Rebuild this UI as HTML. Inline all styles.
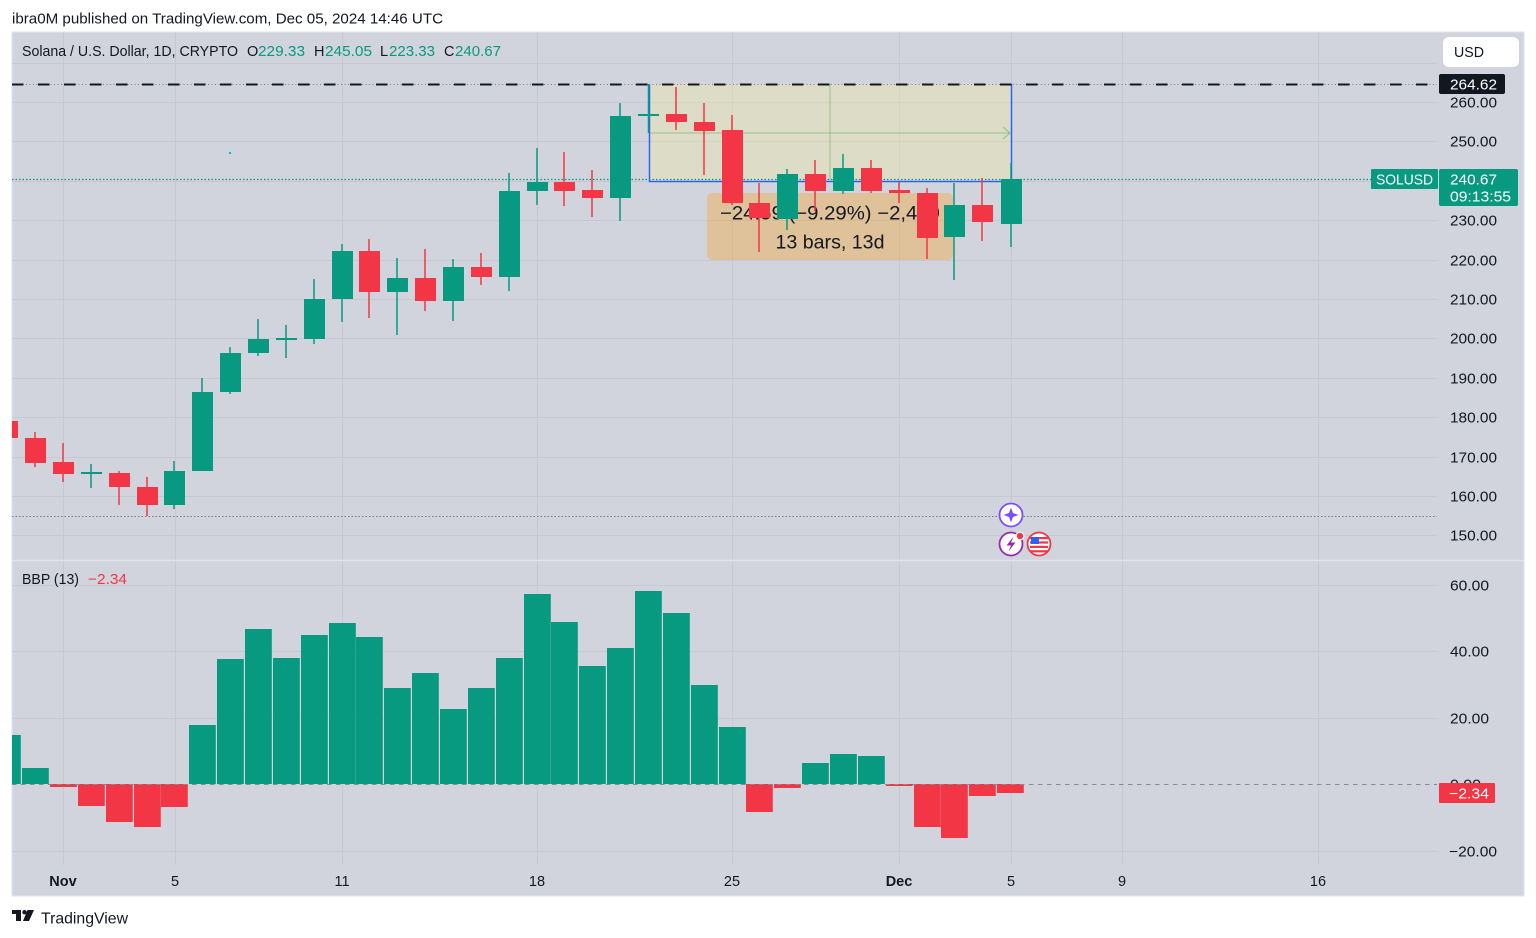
<!DOCTYPE html>
<html><head><meta charset="utf-8"><style>
html,body{margin:0;padding:0;background:#fff;}
svg{display:block;font-family:"Liberation Sans",sans-serif;}
svg text{transform:translateY(1px);}
</style></head><body>
<svg width="1536" height="938" viewBox="0 0 1536 938" xmlns="http://www.w3.org/2000/svg">
<defs><clipPath id="c"><rect x="12" y="32" width="1425" height="833"/></clipPath></defs>
<text x="12" y="18" font-size="15" fill="#131722" dominant-baseline="central" textLength="431" lengthAdjust="spacingAndGlyphs">ibra0M published on TradingView.com, Dec 05, 2024 14:46 UTC</text>
<rect x="12" y="32" width="1512" height="864" fill="#d1d4dc" stroke="#e0e3eb" stroke-width="1"/>
<!-- vertical grid -->
<g stroke="#c6c9d1" stroke-width="1">
<line x1="63.5" y1="32" x2="63.5" y2="865"/><line x1="175.5" y1="32" x2="175.5" y2="865"/><line x1="342.5" y1="32" x2="342.5" y2="865"/><line x1="537.5" y1="32" x2="537.5" y2="865"/><line x1="732.5" y1="32" x2="732.5" y2="865"/><line x1="899.5" y1="32" x2="899.5" y2="865"/><line x1="1011.5" y1="32" x2="1011.5" y2="865"/><line x1="1122.5" y1="32" x2="1122.5" y2="865"/><line x1="1318.5" y1="32" x2="1318.5" y2="865"/>
</g>
<!-- horizontal grid -->
<g stroke="#c6c9d1" stroke-width="1">
<line x1="12" y1="63.5" x2="1437" y2="63.5"/><line x1="12" y1="102.5" x2="1437" y2="102.5"/><line x1="12" y1="141.5" x2="1437" y2="141.5"/><line x1="12" y1="181.5" x2="1437" y2="181.5"/><line x1="12" y1="220.5" x2="1437" y2="220.5"/><line x1="12" y1="260.5" x2="1437" y2="260.5"/><line x1="12" y1="299.5" x2="1437" y2="299.5"/><line x1="12" y1="338.5" x2="1437" y2="338.5"/><line x1="12" y1="378.5" x2="1437" y2="378.5"/><line x1="12" y1="417.5" x2="1437" y2="417.5"/><line x1="12" y1="457.5" x2="1437" y2="457.5"/><line x1="12" y1="496.5" x2="1437" y2="496.5"/><line x1="12" y1="535.5" x2="1437" y2="535.5"/>
<line x1="12" y1="585.5" x2="1437" y2="585.5"/><line x1="12" y1="651.5" x2="1437" y2="651.5"/><line x1="12" y1="718.5" x2="1437" y2="718.5"/><line x1="12" y1="851.5" x2="1437" y2="851.5"/>
</g>
<line x1="12" y1="560.5" x2="1524" y2="560.5" stroke="#e0e3eb" stroke-width="1.5"/>

<!-- header -->
<text x="22" y="51" font-size="14.5" fill="#131722" dominant-baseline="central" textLength="216" lengthAdjust="spacingAndGlyphs">Solana / U.S. Dollar, 1D, CRYPTO</text>
<text x="247" y="51" font-size="14.5" fill="#131722" dominant-baseline="central">O</text><text x="258" y="51" font-size="14.5" fill="#089981" dominant-baseline="central" textLength="47" lengthAdjust="spacingAndGlyphs">229.33</text>
<text x="314" y="51" font-size="14.5" fill="#131722" dominant-baseline="central">H</text><text x="325" y="51" font-size="14.5" fill="#089981" dominant-baseline="central" textLength="47" lengthAdjust="spacingAndGlyphs">245.05</text>
<text x="380" y="51" font-size="14.5" fill="#131722" dominant-baseline="central">L</text><text x="389" y="51" font-size="14.5" fill="#089981" dominant-baseline="central" textLength="46" lengthAdjust="spacingAndGlyphs">223.33</text>
<text x="444" y="51" font-size="14.5" fill="#131722" dominant-baseline="central">C</text><text x="455" y="51" font-size="14.5" fill="#089981" dominant-baseline="central" textLength="46" lengthAdjust="spacingAndGlyphs">240.67</text>

<!-- USD button -->
<rect x="1443" y="37" width="76" height="30" rx="6" fill="#ffffff"/>
<text x="1454" y="52" font-size="14.5" fill="#131722" dominant-baseline="central" textLength="30" lengthAdjust="spacingAndGlyphs">USD</text>

<!-- measurement rect -->
<rect x="649" y="84" width="363" height="97" fill="rgba(250,240,150,0.3)"/>
<path d="M649.5,84 V181.5 H1011.5 V84" fill="none" stroke="#2962ff" stroke-width="1.5"/>
<line x1="650" y1="133" x2="1010" y2="133" stroke="rgba(76,175,80,0.35)" stroke-width="1.5"/>
<polyline points="1003,127 1010,133 1003,139" fill="none" stroke="rgba(76,175,80,0.4)" stroke-width="1.5"/>
<line x1="830" y1="84" x2="830" y2="181" stroke="rgba(76,175,80,0.35)" stroke-width="1.5"/>

<!-- label -->
<rect x="707" y="193" width="246" height="67" rx="5" fill="rgba(255,152,0,0.3)"/>
<text x="830" y="213" font-size="19" fill="#131722" text-anchor="middle" dominant-baseline="central" textLength="220" lengthAdjust="spacingAndGlyphs">−24.59 (−9.29%) −2,459</text>
<text x="830" y="242" font-size="19" fill="#131722" text-anchor="middle" dominant-baseline="central" textLength="109" lengthAdjust="spacingAndGlyphs">13 bars, 13d</text>

<!-- lines -->
<line x1="12" y1="84.5" x2="1437" y2="84.5" stroke="#787b86" stroke-width="1" stroke-dasharray="1 2.5"/>
<line x1="12" y1="84.5" x2="1437" y2="84.5" stroke="#131722" stroke-width="2" stroke-dasharray="11.5 14.5"/>
<line x1="12" y1="179.5" x2="1437" y2="179.5" stroke="#089981" stroke-width="1.3" stroke-dasharray="1.5 2"/>
<line x1="12" y1="516.5" x2="1437" y2="516.5" stroke="#787b86" stroke-width="1" stroke-dasharray="1.5 2"/>
<rect x="229" y="152" width="2" height="2" fill="#00bcd4"/>

<!-- candles -->
<g clip-path="url(#c)">
<g fill="#f23645"><rect x="6.25" y="416" width="1.5" height="25"/><rect x="-3" y="421" width="21" height="17"/></g>
<g fill="#f23645"><rect x="34.25" y="432" width="1.5" height="35"/><rect x="25" y="438" width="21" height="25"/></g>
<g fill="#f23645"><rect x="62.25" y="443" width="1.5" height="39"/><rect x="53" y="462" width="21" height="12"/></g>
<g fill="#089981"><rect x="90.25" y="464" width="1.5" height="24"/><rect x="81" y="472" width="21" height="2"/></g>
<g fill="#f23645"><rect x="118.25" y="471" width="1.5" height="34"/><rect x="109" y="473" width="21" height="14"/></g>
<g fill="#f23645"><rect x="146.25" y="477" width="1.5" height="39"/><rect x="137" y="487" width="21" height="18"/></g>
<g fill="#089981"><rect x="173.25" y="461" width="1.5" height="48"/><rect x="164" y="471" width="21" height="34"/></g>
<g fill="#089981"><rect x="201.25" y="378" width="1.5" height="93"/><rect x="192" y="392" width="21" height="79"/></g>
<g fill="#089981"><rect x="229.25" y="347" width="1.5" height="47"/><rect x="220" y="353" width="21" height="39"/></g>
<g fill="#089981"><rect x="257.25" y="319" width="1.5" height="37"/><rect x="248" y="339" width="21" height="14"/></g>
<g fill="#089981"><rect x="285.25" y="325" width="1.5" height="33"/><rect x="276" y="338" width="21" height="2"/></g>
<g fill="#089981"><rect x="313.25" y="279" width="1.5" height="65"/><rect x="304" y="299" width="21" height="40"/></g>
<g fill="#089981"><rect x="341.25" y="244" width="1.5" height="78"/><rect x="332" y="251" width="21" height="48"/></g>
<g fill="#f23645"><rect x="368.25" y="239" width="1.5" height="79"/><rect x="359" y="251" width="21" height="41"/></g>
<g fill="#089981"><rect x="396.25" y="258" width="1.5" height="77"/><rect x="387" y="278" width="21" height="14"/></g>
<g fill="#f23645"><rect x="424.25" y="249" width="1.5" height="62"/><rect x="415" y="278" width="21" height="23"/></g>
<g fill="#089981"><rect x="452.25" y="259" width="1.5" height="62"/><rect x="443" y="267" width="21" height="34"/></g>
<g fill="#f23645"><rect x="480.25" y="253" width="1.5" height="32"/><rect x="471" y="267" width="21" height="10"/></g>
<g fill="#089981"><rect x="508.25" y="173" width="1.5" height="118"/><rect x="499" y="191" width="21" height="86"/></g>
<g fill="#089981"><rect x="536.25" y="148" width="1.5" height="57"/><rect x="527" y="182" width="21" height="9"/></g>
<g fill="#f23645"><rect x="563.25" y="152" width="1.5" height="54"/><rect x="554" y="182" width="21" height="9"/></g>
<g fill="#f23645"><rect x="591.25" y="170" width="1.5" height="47"/><rect x="582" y="190" width="21" height="8"/></g>
<g fill="#089981"><rect x="619.25" y="103" width="1.5" height="118"/><rect x="610" y="116" width="21" height="82"/></g>
<g fill="#089981"><rect x="647.75" y="84" width="1.5" height="49"/><rect x="638" y="114" width="21" height="2"/></g>
<g fill="#f23645"><rect x="675.25" y="87" width="1.5" height="43"/><rect x="666" y="114" width="21" height="8"/></g>
<g fill="#f23645"><rect x="703.25" y="103" width="1.5" height="72"/><rect x="694" y="122" width="21" height="9"/></g>
<g fill="#f23645"><rect x="731.25" y="115" width="1.5" height="90"/><rect x="722" y="130" width="21" height="73"/></g>
<g fill="#f23645"><rect x="758.25" y="183" width="1.5" height="69"/><rect x="749" y="203" width="21" height="15"/></g>
<g fill="#089981"><rect x="786.25" y="169" width="1.5" height="61"/><rect x="777" y="174" width="21" height="45"/></g>
<g fill="#f23645"><rect x="814.25" y="160" width="1.5" height="51"/><rect x="805" y="174" width="21" height="17"/></g>
<g fill="#089981"><rect x="842.25" y="154" width="1.5" height="40"/><rect x="833" y="168" width="21" height="23"/></g>
<g fill="#f23645"><rect x="870.25" y="160" width="1.5" height="33"/><rect x="861" y="168" width="21" height="23"/></g>
<g fill="#f23645"><rect x="898.25" y="182" width="1.5" height="21"/><rect x="889" y="190" width="21" height="3"/></g>
<g fill="#f23645"><rect x="926.25" y="188" width="1.5" height="71"/><rect x="917" y="193" width="21" height="45"/></g>
<g fill="#089981"><rect x="953.25" y="183" width="1.5" height="97"/><rect x="944" y="205" width="21" height="32"/></g>
<g fill="#f23645"><rect x="981.25" y="178" width="1.5" height="63"/><rect x="972" y="205" width="21" height="17"/></g>
<g fill="#089981"><rect x="1010.25" y="163" width="1.5" height="84"/><rect x="1001" y="179" width="21" height="45"/></g>
</g>

<!-- event icons -->
<circle cx="1011" cy="515" r="11.5" fill="#ffffff" stroke="#7c4dff" stroke-width="1.8"/>
<path d="M1011,507.5 L1013,513 L1018.5,515 L1013,517 L1011,522.5 L1009,517 L1003.5,515 L1009,513 Z" fill="#7c4dff"/>
<circle cx="1011" cy="544" r="11.5" fill="#ffffff" stroke="#9c27b0" stroke-width="1.8"/>
<path d="M1013.5,536.5 L1006.5,545.5 L1011,545.5 L1008.5,551.5 L1015.5,542.5 L1011,542.5 Z" fill="#9c27b0"/>
<circle cx="1020" cy="536" r="3.8" fill="#f23645" stroke="#ffffff" stroke-width="1.2"/>
<circle cx="1039" cy="544" r="11.5" fill="#ffffff" stroke="#f23645" stroke-width="1.8"/>
<rect x="1030" y="537" width="18" height="2.2" fill="#f23645"/><rect x="1030" y="541.4" width="18" height="2.2" fill="#f23645"/><rect x="1030" y="545.8" width="18" height="2.2" fill="#f23645"/><rect x="1030" y="550.2" width="18" height="2.2" fill="#f23645"/>
<rect x="1031" y="537" width="8" height="7" fill="#2962ff"/>

<!-- BBP bars -->
<g clip-path="url(#c)">
<g fill="#089981">
<rect x="-6" y="735" width="26.8" height="49"/>
<rect x="22" y="768" width="26.8" height="16"/>
<rect x="189" y="725" width="26.8" height="59"/>
<rect x="217" y="659" width="26.8" height="125"/>
<rect x="245" y="629" width="26.8" height="155"/>
<rect x="273" y="658" width="26.8" height="126"/>
<rect x="301" y="635" width="26.8" height="149"/>
<rect x="329" y="623" width="26.8" height="161"/>
<rect x="356" y="637" width="26.8" height="147"/>
<rect x="384" y="688" width="26.8" height="96"/>
<rect x="412" y="673" width="26.8" height="111"/>
<rect x="440" y="709" width="26.8" height="75"/>
<rect x="468" y="688" width="26.8" height="96"/>
<rect x="496" y="658" width="26.8" height="126"/>
<rect x="524" y="594" width="26.8" height="190"/>
<rect x="551" y="622" width="26.8" height="162"/>
<rect x="579" y="666" width="26.8" height="118"/>
<rect x="607" y="648" width="26.8" height="136"/>
<rect x="635" y="591" width="26.8" height="193"/>
<rect x="663" y="613" width="26.8" height="171"/>
<rect x="691" y="685" width="26.8" height="99"/>
<rect x="719" y="727" width="26.8" height="57"/>
<rect x="802" y="763" width="26.8" height="21"/>
<rect x="830" y="754" width="26.8" height="30"/>
<rect x="858" y="756" width="26.8" height="28"/>
</g>
<g fill="#f23645">
<rect x="50" y="784" width="26.8" height="3"/>
<rect x="78" y="784" width="26.8" height="22"/>
<rect x="106" y="784" width="26.8" height="38"/>
<rect x="134" y="784" width="26.8" height="43"/>
<rect x="161" y="784" width="26.8" height="23"/>
<rect x="746" y="784" width="26.8" height="28"/>
<rect x="774" y="784" width="26.8" height="4"/>
<rect x="886" y="784" width="26.8" height="2"/>
<rect x="914" y="784" width="26.8" height="43"/>
<rect x="941" y="784" width="26.8" height="54"/>
<rect x="969" y="784" width="26.8" height="12"/>
<rect x="997" y="784" width="26.8" height="9"/>
</g>
</g>
<line x1="12" y1="784.5" x2="1437" y2="784.5" stroke="#868993" stroke-width="1" stroke-dasharray="4.5 4.5"/>

<!-- BBP legend -->
<text x="22" y="579" font-size="14.5" fill="#131722" dominant-baseline="central" textLength="57" lengthAdjust="spacingAndGlyphs">BBP (13)</text>
<text x="88" y="579" font-size="14.5" fill="#f23645" dominant-baseline="central" textLength="39" lengthAdjust="spacingAndGlyphs">−2.34</text>

<!-- price axis labels -->
<g font-size="15" fill="#131722" dominant-baseline="central">
<text x="1450" y="102" textLength="47" lengthAdjust="spacingAndGlyphs">260.00</text>
<text x="1450" y="141" textLength="47" lengthAdjust="spacingAndGlyphs">250.00</text>
<text x="1450" y="220" textLength="47" lengthAdjust="spacingAndGlyphs">230.00</text>
<text x="1450" y="260" textLength="47" lengthAdjust="spacingAndGlyphs">220.00</text>
<text x="1450" y="299" textLength="47" lengthAdjust="spacingAndGlyphs">210.00</text>
<text x="1450" y="338" textLength="47" lengthAdjust="spacingAndGlyphs">200.00</text>
<text x="1450" y="378" textLength="47" lengthAdjust="spacingAndGlyphs">190.00</text>
<text x="1450" y="417" textLength="47" lengthAdjust="spacingAndGlyphs">180.00</text>
<text x="1450" y="457" textLength="47" lengthAdjust="spacingAndGlyphs">170.00</text>
<text x="1450" y="496" textLength="47" lengthAdjust="spacingAndGlyphs">160.00</text>
<text x="1450" y="535" textLength="47" lengthAdjust="spacingAndGlyphs">150.00</text>
<text x="1450" y="585" textLength="39" lengthAdjust="spacingAndGlyphs">60.00</text>
<text x="1450" y="651" textLength="39" lengthAdjust="spacingAndGlyphs">40.00</text>
<text x="1450" y="718" textLength="39" lengthAdjust="spacingAndGlyphs">20.00</text>
<text x="1450" y="784" textLength="31" lengthAdjust="spacingAndGlyphs">0.00</text>
<text x="1449" y="851" textLength="48" lengthAdjust="spacingAndGlyphs">−20.00</text>
</g>

<!-- price tags -->
<rect x="1439" y="74" width="66" height="20" rx="2" fill="#131722"/>
<text x="1450" y="84" font-size="15" fill="#ffffff" dominant-baseline="central" textLength="47" lengthAdjust="spacingAndGlyphs">264.62</text>
<rect x="1371" y="169" width="67" height="20" rx="1" fill="#089981"/>
<text x="1376" y="179" font-size="15" fill="#ffffff" dominant-baseline="central" textLength="57" lengthAdjust="spacingAndGlyphs">SOLUSD</text>
<rect x="1439" y="169" width="79" height="37" rx="2" fill="#089981"/>
<text x="1450" y="179" font-size="15" fill="#ffffff" dominant-baseline="central" textLength="47" lengthAdjust="spacingAndGlyphs">240.67</text>
<text x="1450" y="196" font-size="15" fill="#ffffff" dominant-baseline="central" textLength="61" lengthAdjust="spacingAndGlyphs">09:13:55</text>
<rect x="1439" y="783" width="56" height="20" rx="1" fill="#f23645"/>
<text x="1449" y="793" font-size="15" fill="#ffffff" dominant-baseline="central" textLength="40" lengthAdjust="spacingAndGlyphs">−2.34</text>

<!-- time axis -->
<g font-size="14.5" fill="#131722" text-anchor="middle" dominant-baseline="central">
<text x="63" y="881" font-weight="bold">Nov</text>
<text x="175" y="881">5</text>
<text x="342" y="881">11</text>
<text x="537" y="881">18</text>
<text x="732" y="881">25</text>
<text x="899" y="881" font-weight="bold">Dec</text>
<text x="1011" y="881">5</text>
<text x="1122" y="881">9</text>
<text x="1318" y="881">16</text>
</g>

<!-- footer logo -->
<g fill="#131722">
<rect x="12" y="910" width="9" height="4"/>
<rect x="16" y="910" width="5" height="11"/>
<circle cx="24.5" cy="912.2" r="2.2"/>
<polygon points="27.5,910 34,910 29,921 23,921"/>
</g>
<text x="41" y="918" font-size="16" fill="#131722" dominant-baseline="central" textLength="87" lengthAdjust="spacingAndGlyphs">TradingView</text>
</svg>
</body></html>
